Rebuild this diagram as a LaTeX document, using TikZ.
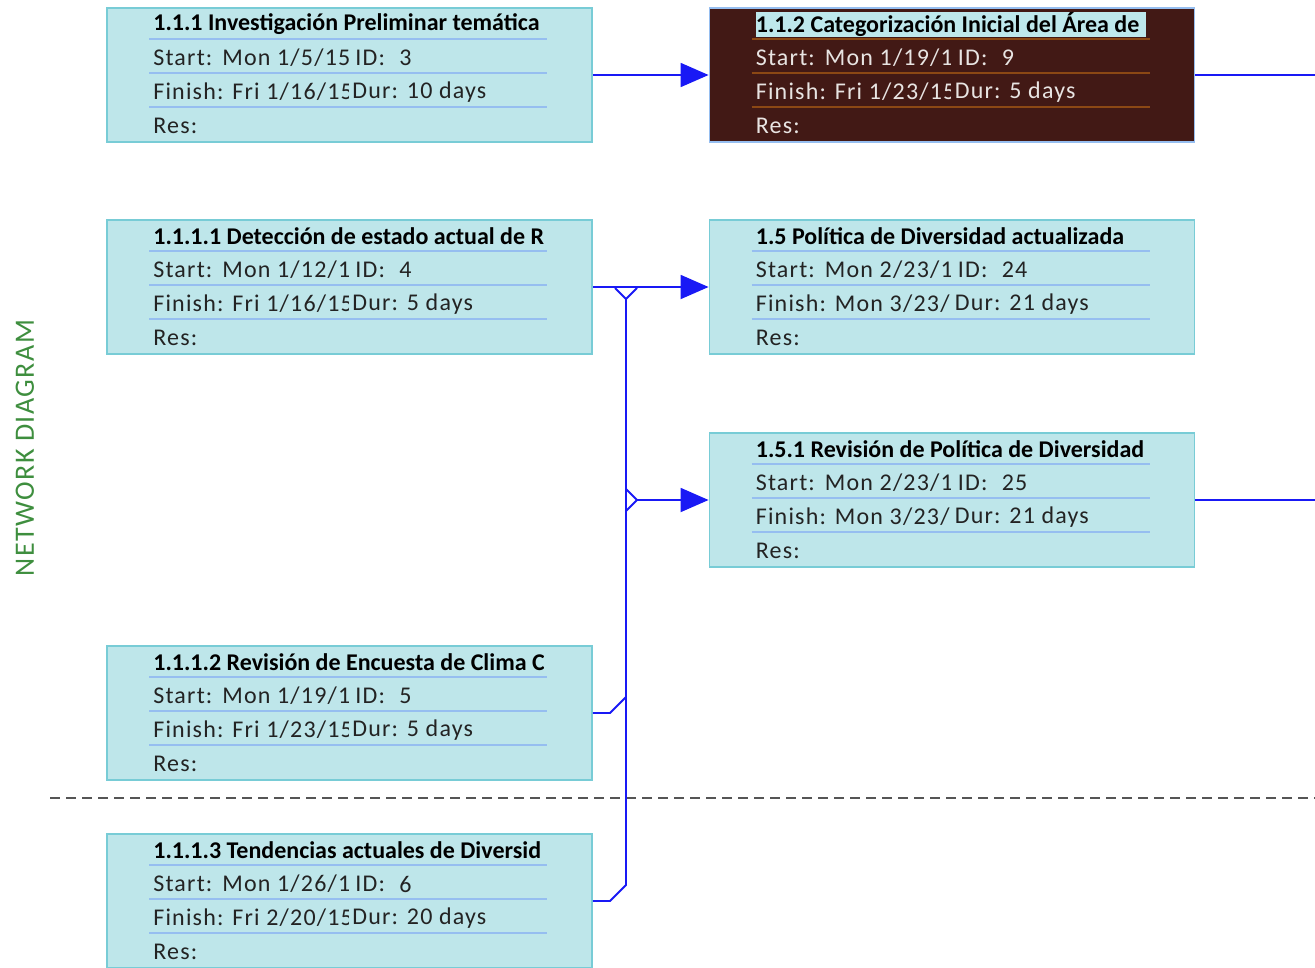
\documentclass[tikz,border=0pt]{standalone}
\usepackage{fontspec}
\setmainfont{Carlito}
\newfontfamily\cellfont[LetterSpace=5]{Carlito}
\usetikzlibrary{calc,arrows.meta}

\definecolor{boxfill}{RGB}{190,230,234}
\definecolor{boxline}{RGB}{120,204,214}
\definecolor{rowline}{RGB}{150,190,240}
\definecolor{darkfill}{RGB}{66,25,21}
\definecolor{darkline}{RGB}{150,190,240}
\definecolor{darkrow}{RGB}{140,72,20}
\definecolor{hilite}{RGB}{190,232,236}
\definecolor{celltext}{RGB}{35,35,35}
\definecolor{lighttext}{RGB}{232,228,226}
\definecolor{linkblue}{RGB}{25,25,245}
\definecolor{labelgreen}{RGB}{62,142,62}
\definecolor{cutgray}{RGB}{85,85,85}

% rows of one task box: name, title, start, id, finish, duration
\newcommand{\taskrows}[6]{%
  \foreach \dy in {32,66,100}
    \draw[rowsep] ($(#1.north west)+(43,\dy)$) -- ++(398,0);
  \begin{scope}
    \clip ($(#1.north west)+(45,2)$) rectangle ($(#1.north west)+(437,31)$);
    \node[tasktitle] (#1-title) at ($(#1.north west)+(47,17)$) {#2};
  \end{scope}
  \begin{scope}
    \clip ($(#1.north west)+(45,34)$) rectangle ($(#1.north west)+(242,98)$);
    \node[cell] (#1-start) at ($(#1.north west)+(47,51)$) {Start:};
    \node[cell] (#1-sdate) at ($(#1.north west)+(116,51)$) {#3};
    \node[cell] (#1-finish) at ($(#1.north west)+(47,85)$) {Finish: #5};
  \end{scope}
  \node[cell] (#1-idlabel) at ($(#1.north west)+(249,51)$) {ID:};
  \node[cell] (#1-id) at ($(#1.north west)+(293,51)$) {#4};
  \node[cell] (#1-dur) at ($(#1.north west)+(246,85)$) {Dur: #6};
  \node[cell] (#1-res) at ($(#1.north west)+(47,119)$) {Res:};
}

\begin{document}
\begin{tikzpicture}[x=0.75pt, y=-0.75pt,
    task/.style={draw=boxline, fill=boxfill, line width=1.4pt,
      minimum width=363.75pt, minimum height=100.5pt, inner sep=0pt},
    donetask/.style={task, draw=darkline, fill=darkfill},
    rowsep/.style={draw=rowline, line width=1.3pt},
    cell/.style={anchor=west, inner sep=0pt, text=celltext,
      font=\cellfont\fontsize{18}{21}\selectfont},
    tasktitle/.style={anchor=west, inner sep=0pt, text=black,
      font=\fontsize{18}{21}\selectfont\bfseries},
    link/.style={draw=linkblue, line width=1.4pt},
    arrow/.style={link, -{Triangle[length=21pt, width=18pt]}}]
  \useasboundingbox (0,0) rectangle (1315,968);

  \node[rotate=90, text=labelgreen, font=\cellfont\fontsize{21}{25}\selectfont]
    (side) at (25,448) {NETWORK DIAGRAM};

  \coordinate (cut left) at (50,798);
  \coordinate (cut right) at (1315,798);
  \draw[cutgray, line width=1.5pt, dash pattern=on 7.5pt off 4.5pt] (cut left) -- (cut right);

  % task boxes
  \node[task] (t3) at (349.5,75) {};
  \node[donetask] (t9) at (952,75) {};
  \node[task] (t4) at (349.5,287) {};
  \node[task] (t24) at (952,287) {};
  \node[task] (t25) at (952,500) {};
  \node[task] (t5) at (349.5,713) {};
  \node[task] (t6) at (349.5,901) {};

  \taskrows{t3}{1.1.1 Investigación Preliminar temática}{Mon 1/5/15}{3}{Fri 1/16/15}{10 days}
  \begin{scope}[rowsep/.style={draw=darkrow, line width=1.3pt},
      cell/.append style={text=lighttext}]
    \fill[hilite] ($(t9.north west)+(47,5)$) rectangle ($(t9.north west)+(437,30)$);
    \taskrows{t9}{1.1.2 Categorización Inicial del Área de}{Mon 1/19/1}{9}{Fri 1/23/15}{5 days}
  \end{scope}
  \taskrows{t4}{1.1.1.1 Detección de estado actual de R}{Mon 1/12/1}{4}{Fri 1/16/15}{5 days}
  \taskrows{t24}{1.5 Política de Diversidad actualizada}{Mon 2/23/1}{24}{Mon 3/23/}{21 days}
  \taskrows{t25}{1.5.1 Revisión de Política de Diversidad}{Mon 2/23/1}{25}{Mon 3/23/}{21 days}
  \taskrows{t5}{1.1.1.2 Revisión de Encuesta de Clima C}{Mon 1/19/1}{5}{Fri 1/23/15}{5 days}
  \taskrows{t6}{1.1.1.3 Tendencias actuales de Diversid}{Mon 1/26/1}{6}{Fri 2/20/15}{20 days}

  % links
  \coordinate (out9) at (1315,75);
  \coordinate (out25) at (1315,500);
  \coordinate (fork top) at (626,299);
  \coordinate (fork mid) at (626,500);
  \coordinate (fork tip) at (637,500);
  \coordinate (bend5) at (610,713);
  \coordinate (bend6) at (610,901);

  \draw[arrow] (t3.east) -- (t9.west);
  \draw[link] (t9.east) -- (out9);
  \draw[link] (t25.east) -- (out25);
  \draw[arrow] (t4.east) -- (t24.west);
  \draw[link] ($(fork top)+(-11,-11)$) -- (fork top) -- ++(11,-11);
  \draw[link] (fork top) -- (626,885) -- (bend6) -- (t6.east);
  \draw[link] (t5.east) -- (bend5) -- (626,697);
  \draw[link] ($(fork mid)+(0,-11)$) -- (fork tip) -- ++(-11,11);
  \draw[arrow] (fork tip) -- (t25.west);
\end{tikzpicture}
\end{document}
